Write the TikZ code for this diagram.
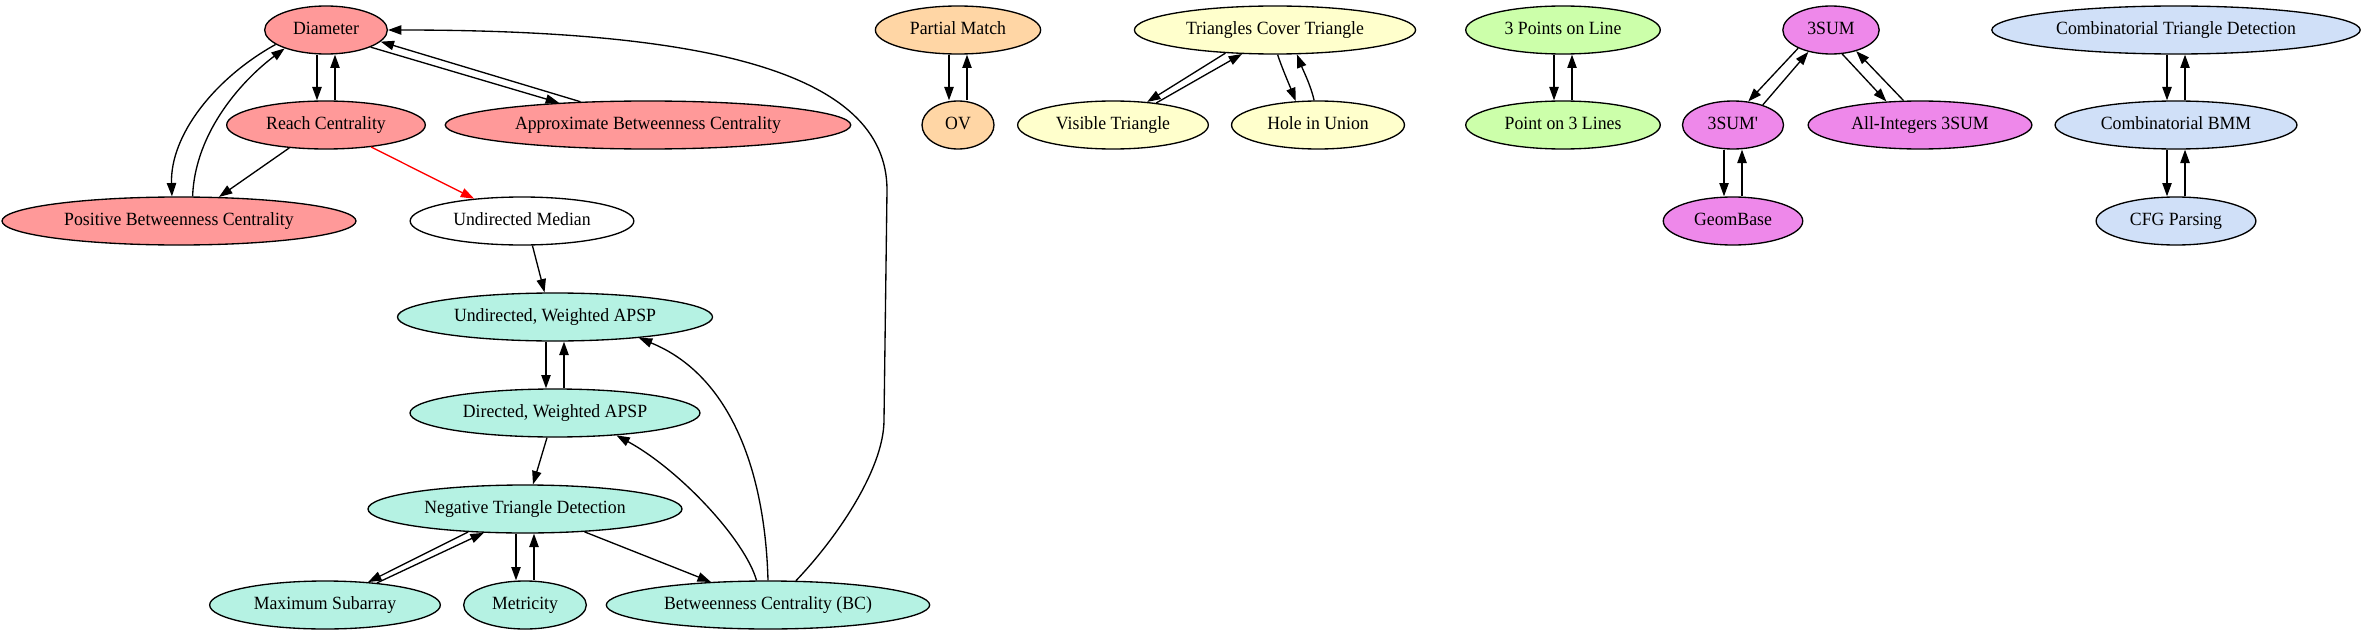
\documentclass[tikz,border=0pt]{standalone}
\usepackage{fontspec}
\setmainfont{Liberation Serif}[FakeStretch=0.95]
\usetikzlibrary{shapes.geometric,arrows.meta}
\definecolor{cRed}{RGB}{255,153,153}
\definecolor{cOrange}{RGB}{255,214,165}
\definecolor{cYellow}{RGB}{255,255,204}
\definecolor{cGreen}{RGB}{204,255,170}
\definecolor{cViolet}{RGB}{238,136,234}
\definecolor{cBlue}{RGB}{208,224,248}
\definecolor{cTeal}{RGB}{181,242,227}
\definecolor{cEdgeRed}{RGB}{255,0,0}
\begin{document}
\begin{tikzpicture}[x=0.75pt,y=-0.75pt,
  gnode/.style={ellipse, draw=black, line width=1pt, fill=white,
    font=\fontsize{14}{16}\selectfont, inner xsep=7.8pt, inner ysep=2pt,
    text height=10pt, text depth=3pt, minimum height=36pt, minimum width=54pt},
  arr/.style={-{Triangle[length=10pt,width=7pt]}, line width=1pt, draw=black},
  redarr/.style={-{Triangle[length=10pt,width=7pt]}, line width=1pt, draw=cEdgeRed, fill=cEdgeRed}]
\useasboundingbox[fill=white] (0,0) rectangle (2363,635);

% nodes
\node[gnode,fill=cRed] (diam) at (326,30) {Diameter};
\node[gnode,fill=cRed] (reach) at (326,125) {Reach Centrality};
\node[gnode,fill=cRed] (abc) at (648,125) {Approximate Betweenness Centrality};
\node[gnode,fill=cRed] (pbc) at (179,221) {Positive Betweenness Centrality};
\node[gnode] (umed) at (522,221) {Undirected Median};
\node[gnode,fill=cTeal] (uw) at (555,317) {Undirected, Weighted APSP};
\node[gnode,fill=cTeal] (dw) at (555,413) {Directed, Weighted APSP};
\node[gnode,fill=cTeal] (ntd) at (525,509) {Negative Triangle Detection};
\node[gnode,fill=cTeal] (msub) at (325,605) {Maximum Subarray};
\node[gnode,fill=cTeal] (metr) at (525,605) {Metricity};
\node[gnode,fill=cTeal] (bc) at (768,605) {Betweenness Centrality (BC)};
\node[gnode,fill=cOrange] (pmatch) at (958,30) {Partial Match};
\node[gnode,fill=cOrange] (ov) at (958,125) {OV};
\node[gnode,fill=cYellow] (tct) at (1275,30) {Triangles Cover Triangle};
\node[gnode,fill=cYellow] (vis) at (1113,125) {Visible Triangle};
\node[gnode,fill=cYellow] (hole) at (1318,125) {Hole in Union};
\node[gnode,fill=cGreen] (tpl) at (1563,30) {3 Points on Line};
\node[gnode,fill=cGreen] (ptl) at (1563,125) {Point on 3 Lines};
\node[gnode,fill=cViolet] (sum) at (1831,30) {3SUM};
\node[gnode,fill=cViolet] (sump) at (1733,125) {3SUM\textquotesingle};
\node[gnode,fill=cViolet] (aint) at (1920,125) {All-Integers 3SUM};
\node[gnode,fill=cViolet] (geom) at (1733,221) {GeomBase};
\node[gnode,fill=cBlue] (ctd) at (2176,30) {Combinatorial Triangle Detection};
\node[gnode,fill=cBlue] (cbmm) at (2176,125) {Combinatorial BMM};
\node[gnode,fill=cBlue] (cfg) at (2176,221) {CFG Parsing};

% red group
\draw[arr] ([shift={(-9,0)}]diam.south) -- ([shift={(-9,0)}]reach.north);
\draw[arr] ([shift={(9,0)}]reach.north) -- ([shift={(9,0)}]diam.south);
\draw[arr] (diam.-21) -- (abc.166);
\draw[arr] (abc.161) -- (diam.-12);
\draw[arr] (diam.196) .. controls (215,78) and (170,135) .. (pbc.106);
\draw[arr] (pbc.61) .. controls (195,130) and (245,78) .. (diam.204);
\draw[arr] (reach.212) -- (pbc.31);
\draw[redarr] (reach.-26) -- (umed.155);
\draw[arr] (bc.41) .. controls (835,540) and (884,470) .. (884,420) -- (887,190)
  .. controls (887,70) and (700,30) .. (diam.east);

% teal group
\draw[arr] (umed.293) -- (uw.113);
\draw[arr] ([shift={(-9,0)}]uw.south) -- ([shift={(-9,0)}]dw.north);
\draw[arr] ([shift={(9,0)}]dw.north) -- ([shift={(9,0)}]uw.south);
\draw[arr] (dw.252) -- (ntd.72);
\draw[arr] (ntd.202) -- (msub.28);
\draw[arr] (msub.23) -- (ntd.210);
\draw[arr] ([shift={(-9,0)}]ntd.south) -- ([shift={(-9,0)}]metr.north);
\draw[arr] ([shift={(9,0)}]metr.north) -- ([shift={(9,0)}]ntd.south);
\draw[arr] (ntd.-21) -- (bc.158);
\draw[arr] (bc.115) .. controls (745,540) and (680,470) .. (dw.-20);
\draw[arr] (bc.90) .. controls (765,470) and (730,375) .. (uw.-14);

% orange group
\draw[arr] ([shift={(-9,0)}]pmatch.south) -- ([shift={(-9,0)}]ov.north);
\draw[arr] ([shift={(9,0)}]ov.north) -- ([shift={(9,0)}]pmatch.south);

% yellow group
\draw[arr] (tct.205) -- (vis.34);
\draw[arr] (vis.27) -- (tct.216);
\draw[arr] (tct.276) .. controls (1282,68) and (1289,84) .. (hole.133);
\draw[arr] (hole.99) .. controls (1311,86) and (1303,70) .. (tct.-48);

% green group
\draw[arr] ([shift={(-9,0)}]tpl.south) -- ([shift={(-9,0)}]ptl.north);
\draw[arr] ([shift={(9,0)}]ptl.north) -- ([shift={(9,0)}]tpl.south);

% violet group
\draw[arr] (sum.209) -- (sump.57);
\draw[arr] (sump.34) -- (sum.224);
\draw[arr] (sum.295) -- (aint.145);
\draw[arr] (aint.124) -- (sum.320);
\draw[arr] ([shift={(-9,0)}]sump.south) -- ([shift={(-9,0)}]geom.north);
\draw[arr] ([shift={(9,0)}]geom.north) -- ([shift={(9,0)}]sump.south);

% blue group
\draw[arr] ([shift={(-9,0)}]ctd.south) -- ([shift={(-9,0)}]cbmm.north);
\draw[arr] ([shift={(9,0)}]cbmm.north) -- ([shift={(9,0)}]ctd.south);
\draw[arr] ([shift={(-9,0)}]cbmm.south) -- ([shift={(-9,0)}]cfg.north);
\draw[arr] ([shift={(9,0)}]cfg.north) -- ([shift={(9,0)}]cbmm.south);
\end{tikzpicture}
\end{document}
